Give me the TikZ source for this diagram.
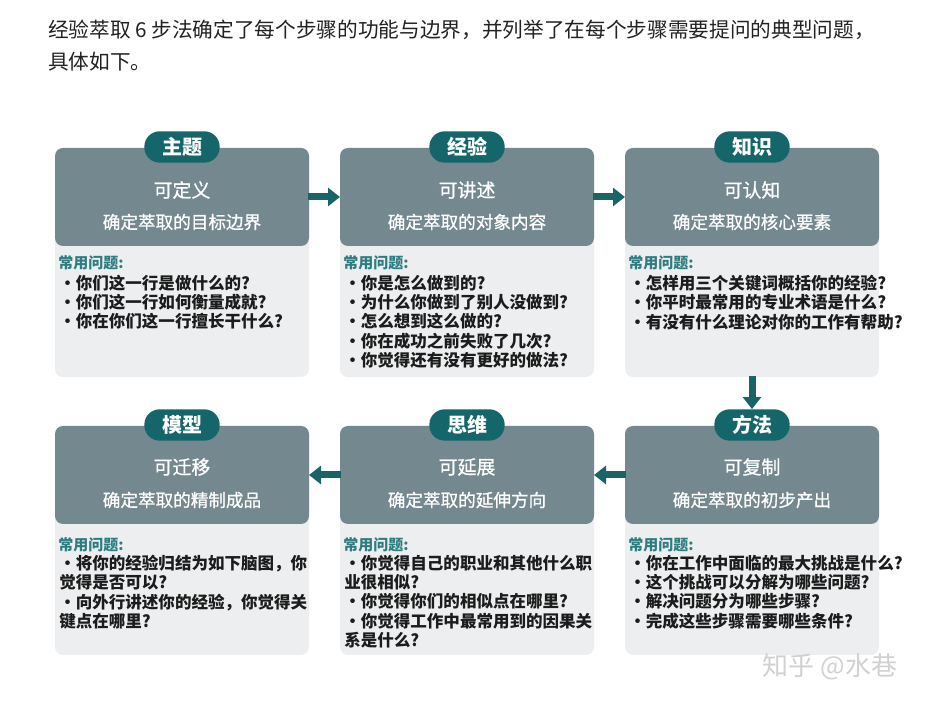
\documentclass[tikz,border=0pt]{standalone}
\usepackage{fontspec}
\setmainfont{Noto Sans CJK SC}
\newfontfamily\midfont{Noto Sans CJK SC}[FakeBold=0.9]
\usepackage{tikz}
\usetikzlibrary{arrows.meta,positioning}
\usepackage{xcolor}

\definecolor{headgray}{RGB}{115,137,143}
\definecolor{bodygray}{RGB}{236,238,239}
\definecolor{tagteal}{RGB}{21,102,106}
\definecolor{flowteal}{RGB}{26,100,104}
\definecolor{askteal}{RGB}{44,124,128}
\definecolor{introtext}{RGB}{34,34,34}
\definecolor{asktext}{RGB}{28,28,28}

\newcommand{\wdot}{\makebox[1em]{·}}

\tikzset{
	intro/.style={anchor=west,inner sep=0pt,text=introtext,font=\fontsize{15.5}{20}\selectfont},
	tag/.style={rounded corners=11.5pt,fill=tagteal,text=white,minimum width=56.5pt,minimum height=23.5pt,inner sep=0pt,font=\fontsize{15}{15}\selectfont\bfseries},
	title/.style={text=white,inner sep=0pt,font=\fontsize{14.2}{16}\midfont},
	sub/.style={text=white,inner sep=0pt,font=\fontsize{13.2}{16}\midfont},
	ask/.style={anchor=west,inner sep=0pt,text=askteal,font=\fontsize{11.25}{14}\selectfont\bfseries},
	qlist/.style={anchor=north west,inner sep=0pt,align=left,text=asktext,font=\fontsize{12.4}{14.4}\selectfont\bfseries},
	flow/.style={draw=flowteal,line width=5.25pt,-{Triangle[length=9pt,width=13.5pt]},shorten <=-1pt},
	stamp/.style={inner sep=0pt,text=black!18,font=\fontsize{19.5}{20}\selectfont}
}

\begin{document}
\begin{tikzpicture}[x=0.75pt,y=-0.75pt]
	\useasboundingbox (0,0) rectangle (926,705);

	\node[intro] (l1) at (48,30) {经验萃取 6 步法确定了每个步骤的功能与边界，并列举了在每个步骤需要提问的典型问题，};
	\node[intro] (l2) at (48,62) {具体如下。};

	% light bodies
	\begin{scope}[every node/.style={rectangle,rounded corners=6pt,fill=bodygray,minimum width=190.5pt,minimum height=171.75pt,anchor=north,outer sep=0pt,inner sep=0pt}]
		\node (b1) at (182,148) {};
		\node (b2) at (467,148) {};
		\node (b3) at (752,148) {};
		\node (b4) at (752,426) {};
		\node (b5) at (467,426) {};
		\node (b6) at (182,426) {};
	\end{scope}

	% dark heads
	\begin{scope}[every node/.style={rectangle,rounded corners=6pt,fill=headgray,minimum width=190.5pt,minimum height=73.5pt,outer sep=0pt,inner sep=0pt}]
		\node (h1) at (182,197) {};
		\node (h2) at (467,197) {};
		\node (h3) at (752,197) {};
		\node (h4) at (752,475) {};
		\node (h5) at (467,475) {};
		\node (h6) at (182,475) {};
	\end{scope}

	\node[tag] (t1) at (182,147) {主题};
	\node[tag] (t2) at (467,147) {经验};
	\node[tag] (t3) at (752,147) {知识};
	\node[tag] (t4) at (752,425) {方法};
	\node[tag] (t5) at (467,425) {思维};
	\node[tag] (t6) at (182,425) {模型};

	\node[title] (n1) at (182,190) {可定义};
	\node[title] (n2) at (467,190) {可讲述};
	\node[title] (n3) at (752,190) {可认知};
	\node[title] (n4) at (752,467) {可复制};
	\node[title] (n5) at (467,467) {可延展};
	\node[title] (n6) at (182,467) {可迁移};

	\node[sub] (s1) at (182,222) {确定萃取的目标边界};
	\node[sub] (s2) at (467,222) {确定萃取的对象内容};
	\node[sub] (s3) at (752,222) {确定萃取的核心要素};
	\node[sub] (s4) at (752,500) {确定萃取的初步产出};
	\node[sub] (s5) at (467,500) {确定萃取的延伸方向};
	\node[sub] (s6) at (182,500) {确定萃取的精制成品};

	\node[ask] (a1) at (58,263) {常用问题:};
	\node[ask] (a2) at (343,263) {常用问题:};
	\node[ask] (a3) at (628,263) {常用问题:};
	\node[ask] (a4) at (628,545) {常用问题:};
	\node[ask] (a5) at (343,545) {常用问题:};
	\node[ask] (a6) at (58,545) {常用问题:};

	\node[qlist] (q1) at (59,275) {·你们这一行是做什么的?\\·你们这一行如何衡量成就?\\·你在你们这一行擅长干什么?};
	\node[qlist] (q2) at (344,275) {·你是怎么做到的?\\·为什么你做到了别人没做到?\\·怎么想到这么做的?\\·你在成功之前失败了几次?\\·你觉得还有没有更好的做法?};
	\node[qlist] (q3) at (629,275) {·怎样用三个关键词概括你的经验?\\·你平时最常用的专业术语是什么?\\·有没有什么理论对你的工作有帮助?};
	\node[qlist] (q4) at (629,555) {·你在工作中面临的最大挑战是什么?\\·这个挑战可以分解为哪些问题?\\·解决问题分为哪些步骤?\\·完成这些步骤需要哪些条件?};
	\node[qlist] (q5) at (344,555) {\wdot 你觉得自己的职业和其他什么职\\业很相似?\\\wdot 你觉得你们的相似点在哪里?\\\wdot 你觉得工作中最常用到的因果关\\系是什么?};
	\node[qlist] (q6) at (59,555) {\wdot 将你的经验归结为如下脑图，你\\觉得是否可以?\\\wdot 向外行讲述你的经验，你觉得关\\键点在哪里?};

	\draw[flow] (h1) -- (h2);
	\draw[flow] (h2) -- (h3);
	\draw[flow] (b3) -- (t4);
	\draw[flow] (h4) -- (h5);
	\draw[flow] (h5) -- (h6);

	\node[stamp] (w1) at (830,667) {知乎 @水巷};
\end{tikzpicture}
\end{document}
